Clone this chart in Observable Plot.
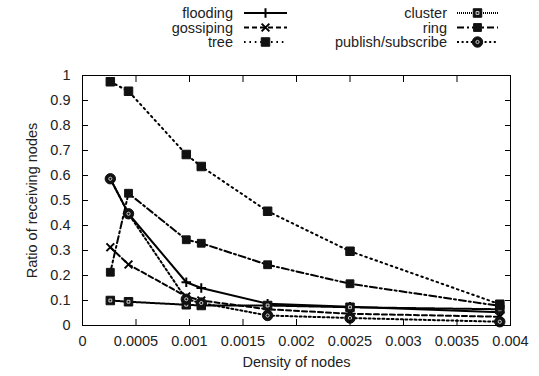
<!DOCTYPE html>
<html><head><meta charset="utf-8">
<script src="https://cdn.jsdelivr.net/npm/d3@7"></script>
<script src="https://cdn.jsdelivr.net/npm/@observablehq/plot@0.6"></script>
<style>
body{margin:0;background:#fff;}
#wrap{position:relative;width:539px;height:376px;font-family:"Liberation Sans",Arial,sans-serif;}
#legend{position:absolute;left:0;top:0;pointer-events:none;}
</style></head><body><div id="wrap"></div>
<script>
// ---- data ----
const density   = [0.00026, 0.00043, 0.00097, 0.00111, 0.00173, 0.0025, 0.0039];
const flooding  = [0.587, 0.447, 0.173, 0.150, 0.087, 0.075, 0.053];
const gossiping = [0.313, 0.244, 0.116, 0.100, 0.065, 0.047, 0.035];
const tree      = [0.975, 0.937, 0.684, 0.636, 0.457, 0.297, 0.085];
const cluster   = [0.100, 0.095, 0.083, 0.080, 0.080, 0.073, 0.065];
const ring      = [0.213, 0.529, 0.343, 0.329, 0.243, 0.167, 0.078];
const pubsub    = [0.587, 0.447, 0.105, 0.090, 0.040, 0.030, 0.015];
const seriesNames = ["flooding", "gossiping", "tree", "cluster", "ring", "publish/subscribe"];
const seriesValues = [flooding, gossiping, tree, cluster, ring, pubsub];
const xTicks = [0, 0.0005, 0.001, 0.0015, 0.002, 0.0025, 0.003, 0.0035, 0.004];
const yTicks = [0, 0.1, 0.2, 0.3, 0.4, 0.5, 0.6, 0.7, 0.8, 0.9, 1];
const xLabel = "Density of nodes";
const yLabel = "Ratio of receiving nodes";

// ---- styles ----
const FONT = '"Liberation Sans", Arial, sans-serif';
const styleOf = {
  "flooding":          {dash: null,          symbol: "plus",   r: 3.2, filled: false},
  "gossiping":         {dash: "5,3",         symbol: "times",  r: 3.6, filled: false},
  "tree":              {dash: "1.6,3.8",     symbol: "square", r: 4.8, filled: true},
  "cluster":           {dash: "1,1",         symbol: "square", r: 4.8, filled: true, inner: "square"},
  "ring":              {dash: "7,3,2,3",     symbol: "square", r: 4.4, filled: true},
  "publish/subscribe": {dash: "2,2.6",       symbol: "circle", r: 5.2, filled: true, inner: "circle"}
};

const rows = seriesNames.map((name, i) =>
  density.map((x, j) => ({series: name, x, y: seriesValues[i][j]})));

const marks = [];
rows.forEach((data, i) => {
  const st = styleOf[seriesNames[i]];
  marks.push(Plot.line(data, {x: "x", y: "y", stroke: "black", strokeWidth: 2,
    strokeDasharray: st.dash || undefined}));
});
rows.forEach((data, i) => {
  const st = styleOf[seriesNames[i]];
  if (st.filled) {
    marks.push(Plot.dot(data, {x: "x", y: "y", symbol: st.symbol, r: st.r, fill: "#111", stroke: "#111", strokeWidth: 1}));
    if (st.inner) marks.push(Plot.dot(data, {x: "x", y: "y", symbol: st.inner, r: 1.6, fill: "none", stroke: "#ccc", strokeWidth: 1}));
  } else {
    marks.push(Plot.dot(data, {x: "x", y: "y", symbol: st.symbol, r: st.r, fill: "none", stroke: "black", strokeWidth: 2}));
  }
});

const plot = Plot.plot({
  width: 539, height: 376,
  marginLeft: 82, marginRight: 29, marginTop: 75, marginBottom: 51,
  style: {fontFamily: FONT, fontSize: "14.5px", color: "#222", background: "white"},
  x: {domain: [0, 0.004]},
  y: {domain: [0, 1]},
  marks: [
    ...marks,
    Plot.frame({stroke: "black", strokeWidth: 1}),
    Plot.axisX(xTicks, {anchor: "bottom", tickSize: 6, dy: -6, fill: "none", stroke: "black", label: null}),
    Plot.axisX(xTicks, {anchor: "top", tickSize: 6, dy: 6, fill: "none", stroke: "black", label: null}),
    Plot.axisY(yTicks, {anchor: "left", tickSize: 6, dx: 6, fill: "none", stroke: "black", label: null}),
    Plot.axisY(yTicks, {anchor: "right", tickSize: 6, dx: -6, fill: "none", stroke: "black", label: null}),
    Plot.axisX(xTicks, {anchor: "bottom", tickSize: 0, tickPadding: 10, tickFormat: d => String(d), label: null, fill: "#222"}),
    Plot.axisY(yTicks, {anchor: "left", tickSize: 0, tickPadding: 12, tickFormat: d => String(d), label: null, fill: "#222"}),
    Plot.text([xLabel], {frameAnchor: "bottom", dy: 37, lineAnchor: "middle", textAnchor: "middle", text: d => d, fill: "#222", fontSize: 14.5}),
    Plot.text([yLabel], {frameAnchor: "left", dx: -50, rotate: -90, lineAnchor: "middle", textAnchor: "middle", text: d => d, fill: "#222", fontSize: 14.5})
  ]
});
document.getElementById("wrap").appendChild(plot);

// ---- legend (drawn with d3 above the frame) ----
const legendPos = [
  {labelRight: 233, x1: 244, x2: 287, y: 13},
  {labelRight: 233, x1: 244, x2: 287, y: 27.5},
  {labelRight: 233, x1: 244, x2: 287, y: 42},
  {labelRight: 447, x1: 457, x2: 498, y: 13},
  {labelRight: 447, x1: 457, x2: 498, y: 27.5},
  {labelRight: 447, x1: 457, x2: 498, y: 42}
];
const lg = d3.select("#wrap").append("svg").attr("id", "legend")
  .attr("width", 539).attr("height", 60);
seriesNames.forEach((name, i) => {
  const p = legendPos[i], st = styleOf[name];
  const g = lg.append("g");
  g.append("text").attr("x", p.labelRight).attr("y", p.y).attr("dy", "0.35em")
    .attr("text-anchor", "end").attr("font-family", FONT).attr("font-size", "14.5px")
    .attr("fill", "#222").text(name);
  g.append("line").attr("x1", p.x1).attr("x2", p.x2).attr("y1", p.y).attr("y2", p.y)
    .attr("stroke", "black").attr("stroke-width", 2)
    .attr("stroke-dasharray", st.dash || null);
  const cx = (p.x1 + p.x2) / 2;
  const symMap = {plus: d3.symbolPlus, times: d3.symbolTimes, square: d3.symbolSquare, circle: d3.symbolCircle};
  const size = Math.PI * st.r * st.r;
  const path = d3.symbol(symMap[st.symbol], size)();
  if (st.filled) {
    g.append("path").attr("d", path).attr("transform", `translate(${cx},${p.y})`)
      .attr("fill", "#111").attr("stroke", "#111");
    if (st.inner) g.append("path").attr("d", d3.symbol(symMap[st.inner], Math.PI * 1.6 * 1.6)())
      .attr("transform", `translate(${cx},${p.y})`).attr("fill", "none").attr("stroke", "#ccc");
  } else {
    g.append("path").attr("d", path).attr("transform", `translate(${cx},${p.y})`)
      .attr("fill", "none").attr("stroke", "black").attr("stroke-width", 2);
  }
});
</script></body></html>
